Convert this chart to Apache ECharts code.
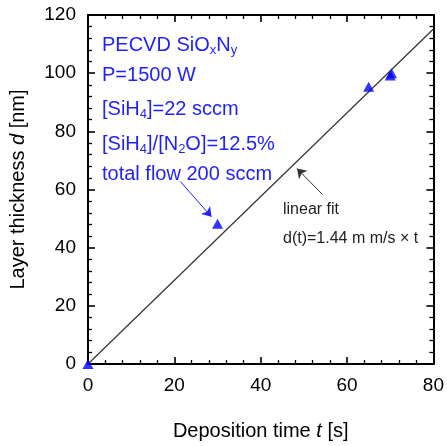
<!DOCTYPE html>
<html><head><meta charset="utf-8">
<script src="https://cdn.jsdelivr.net/npm/echarts@6/dist/echarts.min.js"></script>
<style>html,body{margin:0;padding:0;background:#fff}#c{width:447px;height:446px}</style>
</head><body><div id="c"></div>
<script>
// measured deposition data
const timeS = [0, 30, 65, 70, 70.3];
const thicknessNm = [0, 48.2, 95.3, 99.2, 100.0];
// linear fit d(t) = 1.44 nm/s * t
const fitT = [0, 80];
const fitD = [0, 115.2];
// axis ranges
const xMin = 0, xMax = 80, xStep = 20;
const yMin = 0, yMax = 120, yStep = 20;
// annotation arrows (data coordinates)
const flowArrowFrom = [21.4, 62.7], flowArrowTo = [28.6, 50.6];
const fitArrowFrom = [54.3, 58.3], fitArrowTo = [48.4, 67.2];

const FONT = '"Liberation Sans", Arial, sans-serif';
const BLUE = '#1f1fff';

const chart = echarts.init(document.getElementById('c'), null, {renderer: 'canvas'});

function axisCommon(showLabel) {
  return {
    axisLine: {show: true, onZero: false, lineStyle: {color: '#000', width: 2}},
    axisTick: {show: true, inside: true, length: 7, lineStyle: {color: '#000', width: 1.6}},
    minorTick: {show: true, splitNumber: 5, length: 4, lineStyle: {color: '#000', width: 1.3}},
    splitLine: {show: false},
    minorSplitLine: {show: false},
    axisLabel: {show: showLabel, color: '#000', fontSize: 19, fontFamily: FONT}
  };
}

const scatterData = timeS.map((t, i) => [t, thicknessNm[i]]);
const fitData = fitT.map((t, i) => [t, fitD[i]]);

const richBlue = {
  b: {fontSize: 20, fill: BLUE, fontFamily: FONT, lineHeight: 24},
  s: {fontSize: 13, fill: BLUE, fontFamily: FONT, lineHeight: 11, verticalAlign: 'bottom'}
};
const infoLines = [
  '{b|PECVD SiO}{s|x}{b|N}{s|y}',
  '{b|P=1500 W}',
  '{b|[SiH}{s|4}{b|]=22 sccm}',
  '{b|[SiH}{s|4}{b|]/[N}{s|2}{b|O]=12.5%}',
  '{b|total flow 200 sccm}'
];
const infoY = [45, 75, 109, 144, 174];

const graphics = infoLines.map((txt, i) => ({
  type: 'text', z: 10,
  style: {x: 102, y: infoY[i], text: txt, rich: richBlue, fill: BLUE, verticalAlign: 'middle', align: 'left'}
}));
graphics.push({
  type: 'text', z: 10,
  style: {x: 283, y: 210, text: 'linear fit', fill: '#222', fontSize: 16, fontFamily: FONT, verticalAlign: 'middle'}
});
graphics.push({
  type: 'text', z: 10,
  style: {x: 283, y: 239, text: 'd(t)=1.44 m m/s × t', fill: '#222', fontSize: 16, fontFamily: FONT, verticalAlign: 'middle'}
});

chart.setOption({
  animation: false,
  backgroundColor: '#fff',
  grid: {left: 87, right: 12, top: 15, bottom: 81, containLabel: false},
  xAxis: [
    Object.assign(axisCommon(true), {
      type: 'value', min: xMin, max: xMax, interval: xStep, position: 'bottom',
      name: '{n|Deposition time }{i|t}{n| [s]}', nameLocation: 'middle', nameGap: 57,
      nameTextStyle: {rich: {
        n: {fontSize: 20, fontFamily: FONT, color: '#000'},
        i: {fontSize: 20, fontFamily: FONT, color: '#000', fontStyle: 'italic'}
      }},
      axisLabel: {show: true, color: '#000', fontSize: 19, fontFamily: FONT, margin: 12}
    }),
    Object.assign(axisCommon(false), {
      type: 'value', min: xMin, max: xMax, interval: xStep, position: 'top'
    })
  ],
  yAxis: [
    Object.assign(axisCommon(true), {
      type: 'value', min: yMin, max: yMax, interval: yStep, position: 'left',
      name: '{n|Layer thickness }{i|d}{n| [nm]}', nameLocation: 'middle', nameGap: 60,
      nameTextStyle: {rich: {
        n: {fontSize: 20, fontFamily: FONT, color: '#000'},
        i: {fontSize: 20, fontFamily: FONT, color: '#000', fontStyle: 'italic'}
      }},
      axisLabel: {show: true, color: '#000', fontSize: 19, fontFamily: FONT, margin: 12}
    }),
    Object.assign(axisCommon(false), {
      type: 'value', min: yMin, max: yMax, interval: yStep, position: 'right'
    })
  ],
  series: [
    {
      type: 'line', data: fitData, xAxisIndex: 0, yAxisIndex: 0,
      symbol: 'none', lineStyle: {color: '#333', width: 1.2}, z: 3,
      markLine: {
        silent: true, symbol: ['none', 'arrow'], symbolSize: 9,
        label: {show: false},
        data: [
          [{coord: flowArrowFrom, lineStyle: {color: BLUE, width: 1, type: 'solid'}},
           {coord: flowArrowTo}],
          [{coord: fitArrowFrom, lineStyle: {color: '#333', width: 1, type: 'solid'}},
           {coord: fitArrowTo}]
        ]
      }
    },
    {
      type: 'scatter', data: scatterData, xAxisIndex: 0, yAxisIndex: 0,
      symbol: 'triangle', symbolSize: [11, 10], clip: false, z: 5,
      itemStyle: {color: '#0000ff'}
    }
  ],
  graphic: graphics
});
</script>
</body></html>
